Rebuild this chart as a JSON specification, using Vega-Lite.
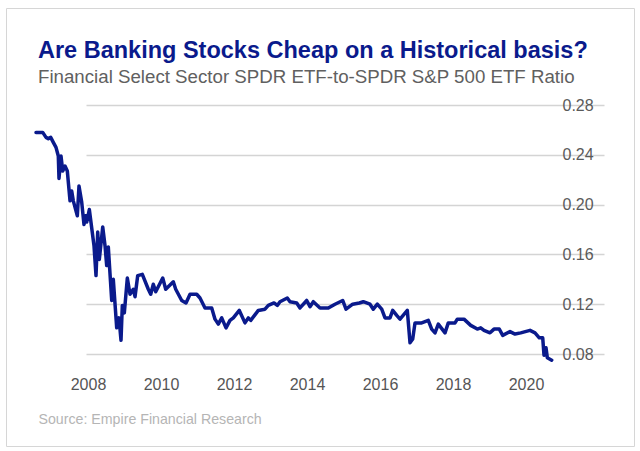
{
  "$schema": "https://vega.github.io/schema/vega-lite/v6.json",
  "width": 628,
  "height": 438,
  "autosize": {"type": "none"},
  "padding": {"left": 6, "top": 8, "right": 6, "bottom": 5},
  "background": "white",
  "title": {
    "text": "Are Banking Stocks Cheap on a Historical basis?",
    "subtitle": "Financial Select Sector SPDR ETF-to-SPDR S&P 500 ETF Ratio",
    "anchor": "start",
    "frame": "group",
    "dx": 32,
    "offset": -79,
    "font": "Liberation Sans",
    "fontSize": 23.5,
    "fontWeight": "bold",
    "color": "#0a1a8c",
    "subtitleFont": "Liberation Sans",
    "subtitleFontSize": 18.7,
    "subtitleColor": "#606060",
    "subtitlePadding": 6
  },
  "data": {
    "values": [
      {"year": 2006.575, "ratio": 0.258},
      {"year": 2006.759, "ratio": 0.258},
      {"year": 2006.849, "ratio": 0.254},
      {"year": 2006.912, "ratio": 0.253},
      {"year": 2006.978, "ratio": 0.254},
      {"year": 2007.049, "ratio": 0.250},
      {"year": 2007.123, "ratio": 0.246},
      {"year": 2007.186, "ratio": 0.239},
      {"year": 2007.205, "ratio": 0.221},
      {"year": 2007.260, "ratio": 0.239},
      {"year": 2007.307, "ratio": 0.227},
      {"year": 2007.370, "ratio": 0.231},
      {"year": 2007.433, "ratio": 0.227},
      {"year": 2007.507, "ratio": 0.203},
      {"year": 2007.553, "ratio": 0.211},
      {"year": 2007.597, "ratio": 0.203},
      {"year": 2007.707, "ratio": 0.191},
      {"year": 2007.753, "ratio": 0.215},
      {"year": 2007.827, "ratio": 0.202},
      {"year": 2007.890, "ratio": 0.184},
      {"year": 2007.937, "ratio": 0.191},
      {"year": 2007.964, "ratio": 0.186},
      {"year": 2008.036, "ratio": 0.196},
      {"year": 2008.164, "ratio": 0.167},
      {"year": 2008.219, "ratio": 0.143},
      {"year": 2008.266, "ratio": 0.178},
      {"year": 2008.310, "ratio": 0.156},
      {"year": 2008.403, "ratio": 0.182},
      {"year": 2008.466, "ratio": 0.167},
      {"year": 2008.512, "ratio": 0.151},
      {"year": 2008.556, "ratio": 0.166},
      {"year": 2008.649, "ratio": 0.123},
      {"year": 2008.693, "ratio": 0.140},
      {"year": 2008.786, "ratio": 0.101},
      {"year": 2008.849, "ratio": 0.109},
      {"year": 2008.904, "ratio": 0.091},
      {"year": 2008.940, "ratio": 0.119},
      {"year": 2008.995, "ratio": 0.113},
      {"year": 2009.077, "ratio": 0.141},
      {"year": 2009.151, "ratio": 0.128},
      {"year": 2009.241, "ratio": 0.132},
      {"year": 2009.288, "ratio": 0.126},
      {"year": 2009.362, "ratio": 0.143},
      {"year": 2009.488, "ratio": 0.144},
      {"year": 2009.652, "ratio": 0.132},
      {"year": 2009.718, "ratio": 0.128},
      {"year": 2009.789, "ratio": 0.136},
      {"year": 2009.855, "ratio": 0.130},
      {"year": 2010.047, "ratio": 0.141},
      {"year": 2010.129, "ratio": 0.132},
      {"year": 2010.337, "ratio": 0.138},
      {"year": 2010.403, "ratio": 0.132},
      {"year": 2010.567, "ratio": 0.123},
      {"year": 2010.685, "ratio": 0.121},
      {"year": 2010.795, "ratio": 0.128},
      {"year": 2010.978, "ratio": 0.128},
      {"year": 2011.068, "ratio": 0.125},
      {"year": 2011.205, "ratio": 0.117},
      {"year": 2011.389, "ratio": 0.117},
      {"year": 2011.479, "ratio": 0.108},
      {"year": 2011.570, "ratio": 0.104},
      {"year": 2011.663, "ratio": 0.109},
      {"year": 2011.781, "ratio": 0.101},
      {"year": 2011.890, "ratio": 0.107},
      {"year": 2011.981, "ratio": 0.109},
      {"year": 2012.145, "ratio": 0.115},
      {"year": 2012.301, "ratio": 0.105},
      {"year": 2012.392, "ratio": 0.109},
      {"year": 2012.458, "ratio": 0.107},
      {"year": 2012.666, "ratio": 0.115},
      {"year": 2012.849, "ratio": 0.116},
      {"year": 2012.940, "ratio": 0.119},
      {"year": 2013.096, "ratio": 0.121},
      {"year": 2013.186, "ratio": 0.119},
      {"year": 2013.260, "ratio": 0.122},
      {"year": 2013.460, "ratio": 0.125},
      {"year": 2013.534, "ratio": 0.122},
      {"year": 2013.718, "ratio": 0.121},
      {"year": 2013.808, "ratio": 0.117},
      {"year": 2013.992, "ratio": 0.123},
      {"year": 2014.082, "ratio": 0.118},
      {"year": 2014.173, "ratio": 0.122},
      {"year": 2014.356, "ratio": 0.117},
      {"year": 2014.584, "ratio": 0.117},
      {"year": 2014.767, "ratio": 0.120},
      {"year": 2014.978, "ratio": 0.123},
      {"year": 2015.068, "ratio": 0.116},
      {"year": 2015.252, "ratio": 0.120},
      {"year": 2015.433, "ratio": 0.121},
      {"year": 2015.542, "ratio": 0.122},
      {"year": 2015.726, "ratio": 0.120},
      {"year": 2015.816, "ratio": 0.116},
      {"year": 2015.926, "ratio": 0.120},
      {"year": 2016.047, "ratio": 0.116},
      {"year": 2016.137, "ratio": 0.109},
      {"year": 2016.274, "ratio": 0.109},
      {"year": 2016.348, "ratio": 0.115},
      {"year": 2016.458, "ratio": 0.111},
      {"year": 2016.548, "ratio": 0.108},
      {"year": 2016.748, "ratio": 0.115},
      {"year": 2016.822, "ratio": 0.089},
      {"year": 2016.896, "ratio": 0.092},
      {"year": 2016.959, "ratio": 0.105},
      {"year": 2017.142, "ratio": 0.105},
      {"year": 2017.323, "ratio": 0.107},
      {"year": 2017.416, "ratio": 0.100},
      {"year": 2017.507, "ratio": 0.097},
      {"year": 2017.597, "ratio": 0.104},
      {"year": 2017.781, "ratio": 0.097},
      {"year": 2017.871, "ratio": 0.105},
      {"year": 2018.055, "ratio": 0.105},
      {"year": 2018.118, "ratio": 0.108},
      {"year": 2018.301, "ratio": 0.108},
      {"year": 2018.485, "ratio": 0.103},
      {"year": 2018.666, "ratio": 0.100},
      {"year": 2018.759, "ratio": 0.101},
      {"year": 2018.849, "ratio": 0.099},
      {"year": 2019.014, "ratio": 0.097},
      {"year": 2019.123, "ratio": 0.100},
      {"year": 2019.268, "ratio": 0.100},
      {"year": 2019.362, "ratio": 0.095},
      {"year": 2019.562, "ratio": 0.098},
      {"year": 2019.699, "ratio": 0.096},
      {"year": 2019.855, "ratio": 0.097},
      {"year": 2020.110, "ratio": 0.099},
      {"year": 2020.247, "ratio": 0.097},
      {"year": 2020.364, "ratio": 0.093},
      {"year": 2020.458, "ratio": 0.093},
      {"year": 2020.493, "ratio": 0.079},
      {"year": 2020.548, "ratio": 0.085},
      {"year": 2020.584, "ratio": 0.077},
      {"year": 2020.704, "ratio": 0.075}
    ]
  },
  "mark": {"type": "line", "color": "#0a1a8c", "strokeWidth": 3.5, "strokeJoin": "round", "strokeCap": "round"},
  "encoding": {
    "x": {
      "field": "year",
      "type": "quantitative",
      "scale": {"domain": [2006.575, 2020.767], "range": [30, 548], "nice": false, "zero": false},
      "axis": {
        "values": [2008, 2010, 2012, 2014, 2016, 2018, 2020],
        "format": "d",
        "grid": false,
        "domain": false,
        "ticks": false,
        "offset": -70,
        "labelPadding": 0,
        "labelFont": "Liberation Sans",
        "labelFontSize": 16,
        "labelColor": "#555555",
        "title": "Source: Empire Financial Research",
        "titleAnchor": "start",
        "titleAlign": "left",
        "titleX": 32,
        "titleY": 47.5,
        "titleBaseline": "alphabetic",
        "titleFont": "Liberation Sans",
        "titleFontSize": 14.2,
        "titleFontWeight": "normal",
        "titleColor": "#b5b5b5"
      }
    },
    "y": {
      "field": "ratio",
      "type": "quantitative",
      "scale": {"domain": [0.08, 0.28], "range": [346, 97], "nice": false, "zero": false},
      "axis": {
        "orient": "right",
        "values": [0.08, 0.12, 0.16, 0.2, 0.24, 0.28],
        "format": ".2f",
        "grid": true,
        "gridColor": "#d4d4d4",
        "gridWidth": 1.5,
        "domain": false,
        "ticks": false,
        "offset": -72,
        "labelPadding": 0,
        "labelFont": "Liberation Sans",
        "labelFontSize": 16,
        "labelColor": "#5a5a5a",
        "title": null
      }
    }
  },
  "config": {
    "view": {"stroke": "#d6d6d6", "strokeWidth": 1}
  }
}
